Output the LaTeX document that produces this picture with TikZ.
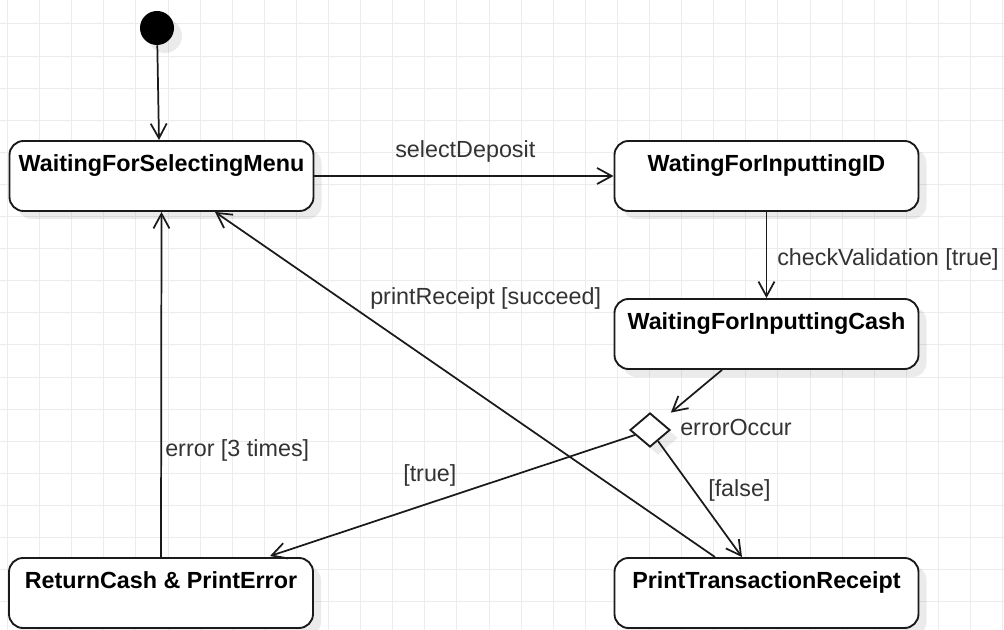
\documentclass[tikz,border=0pt]{standalone}
\usepackage{fontspec}
\setmainfont{Liberation Sans}
\usetikzlibrary{arrows.meta,shapes.geometric,shadows,calc}
\definecolor{gridc}{RGB}{236,236,236}
\definecolor{lblc}{RGB}{51,51,51}
\definecolor{linec}{RGB}{26,26,26}
\begin{document}
\begin{tikzpicture}[x=0.75pt,y=-0.75pt,
  gridline/.style={draw=gridc, line width=0.75pt},
  shad/.style={drop shadow={shadow xshift=6pt,shadow yshift=-6pt,opacity=0.08,fill=black}},
  statebox/.style={draw=linec, line width=1.4pt, fill=white, rounded corners=10.5pt,
    minimum width=228pt, inner sep=0pt, text height=23.25pt, text depth=29.25pt,
    font=\fontsize{17.5}{21}\selectfont\bfseries, shad},
  arr/.style={draw=linec, line width=1.3pt, -{Straight Barb[length=11pt,width=12pt]}},
  lbl/.style={text=lblc, font=\fontsize{17.5}{21}\selectfont, inner sep=0pt, anchor=base west}]
\useasboundingbox (0,0) rectangle (1004,630);
\fill[white] (0,0) rectangle (1004,630);
\foreach \i in {0,...,31} \draw[gridline] ({7.5+32.1*\i},0) -- ({7.5+32.1*\i},630);
\foreach \j in {0,...,19} \draw[gridline] (0,{24+32.1*\j}) -- (1004,{24+32.1*\j});

\node[circle, fill=black, minimum size=25.5pt, inner sep=0pt, shad] (init) at (157,28) {};
\node[statebox] (menu) at (161.5,176) {WaitingForSelectingMenu};
\node[statebox] (id) at (766.5,176) {WatingForInputtingID};
\node[statebox] (cash) at (766.5,334) {WaitingForInputtingCash};
\node[statebox] (ret) at (161,593) {ReturnCash \& PrintError};
\node[statebox] (prt) at (766.5,593) {PrintTransactionReceipt};
\node[diamond, draw=linec, line width=1.4pt, fill=white, minimum width=30pt, minimum height=25.5pt, inner sep=0pt, shad] (dec) at (650,430) {};

\draw[arr] (init) -- ($(menu.north)+(-2.5,0)$);
\draw[arr] (menu) -- (id);
\draw[arr] (id) -- (cash);
\draw[arr, shorten >=10pt] ($(cash.south)+(-44.5,0)$) -- (dec);
\draw[arr] (dec) -- ($(ret.north)+(109,-1)$);
\draw[arr] (dec) -- ($(prt.north)+(-24.5,0)$);
\draw[arr] ($(prt.north)+(-51.5,0)$) -- ($(menu.south)+(53.5,0)$);
\draw[arr] (ret.north) -- (menu.south);

\node[lbl] (l1) at (395,158) {selectDeposit};
\node[lbl] (l2) at (777,266) {checkValidation [true]};
\node[lbl] (l3) at (370,305) {printReceipt [succeed]};
\node[lbl] (l4) at (165,457) {error [3 times]};
\node[lbl] (l5) at (403,482) {[true]};
\node[lbl] (l6) at (708,497) {[false]};
\node[lbl] (l7) at (680,436) {errorOccur};
\end{tikzpicture}
\end{document}
